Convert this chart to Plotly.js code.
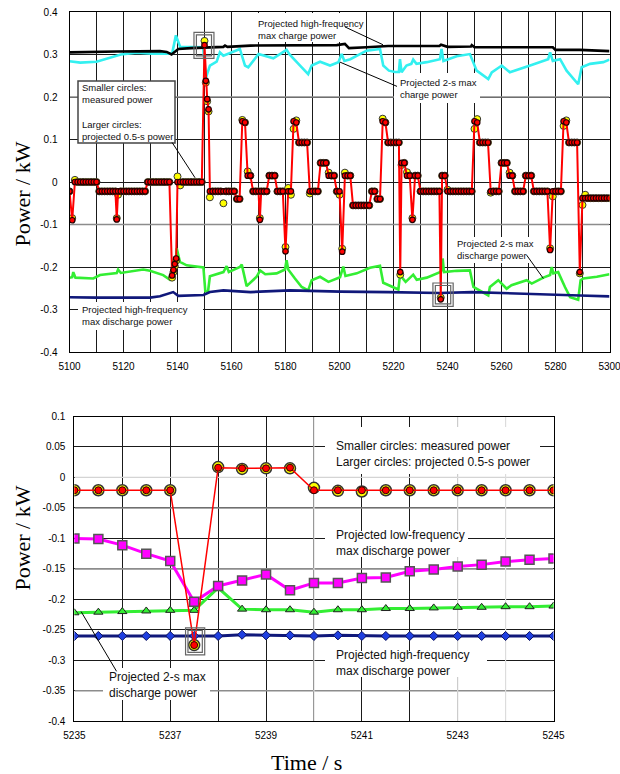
<!DOCTYPE html>
<html><head><meta charset="utf-8">
<script src="https://cdn.plot.ly/plotly-3.0.1.min.js"></script>
<style>html,body{margin:0;padding:0;background:#fff}#chart{width:620px;height:774px}</style>
</head><body><div id="chart"></div>
<script>
// ---------------- TOP CHART DATA (time s, power kW) ----------------
const measuredTop = [
[5100,-0.022],[5101,-0.090],
[5102,0],[5103,0],[5104,0],[5105,0],[5106,0],[5107,0],[5108,0],[5109,0],[5110,0],
[5111,-0.022],[5112,-0.022],[5113,-0.022],[5114,-0.022],[5115,-0.022],[5116,-0.022],[5117,-0.022],[5117.5,-0.088],
[5118,-0.022],[5119,-0.022],[5120,-0.022],[5121,-0.022],[5122,-0.022],[5123,-0.022],[5124,-0.022],[5125,-0.022],[5126,-0.022],[5127,-0.022],[5128,-0.022],
[5129,0],[5130,0],[5131,0],[5132,0],[5133,0],[5134,0],[5135,0],[5136,0],[5137,0],
[5138,-0.220],[5138.5,-0.207],[5139,-0.193],[5139.5,-0.180],
[5140,0],[5141,0],[5142,0],[5143,0],[5144,0],[5145,0],[5146,0],[5147,0],[5148,0],[5149,0],
[5150,0.322],[5150.5,0.238],[5151,0.195],[5151.5,0.171],
[5152,-0.022],[5153,-0.022],[5154,-0.022],[5155,-0.022],[5156,-0.022],[5157,-0.022],[5158,-0.022],[5159,-0.022],[5160,-0.022],[5161,-0.022],
[5162,-0.040],[5163,-0.040],[5164,0.143],[5165,0.140],[5166,0.015],[5167,0.015],
[5168,-0.022],[5169,-0.022],[5170,-0.022],[5170.5,-0.089],[5171,-0.022],[5172,-0.022],[5173,-0.022],
[5174,0.015],[5175,0.015],[5176,0.015],
[5177,-0.022],[5178,-0.022],[5179,-0.022],[5180,-0.163],[5181,-0.022],[5182,-0.022],
[5183,0.143],[5184,0.140],[5185,0.093],[5186,0.093],[5187,0.093],[5188,0.093],
[5189,-0.022],[5190,-0.022],[5191,-0.022],[5192,-0.022],
[5193,0.045],[5194,0.045],[5195,0.045],[5196,0.015],[5197,0.015],[5198,0.015],
[5199,-0.022],[5200,-0.022],[5201,-0.164],[5202,0.015],[5203,0.015],[5204,0.015],
[5205,-0.055],[5206,-0.055],[5207,-0.055],[5208,-0.055],[5209,-0.055],[5210,-0.055],[5211,-0.055],
[5212,-0.022],[5213,-0.022],[5214,-0.040],[5215,-0.040],
[5216,0.143],[5217,0.140],[5218,0.093],[5219,0.093],[5220,0.093],[5221,0.093],[5222,0.093],[5222.5,-0.212],
[5223,0.045],[5224,0.045],[5225,0.015],[5226,0.015],[5227,-0.089],[5228,0.015],[5229,0.015],
[5230,-0.022],[5231,-0.022],[5232,-0.022],[5233,-0.022],[5234,-0.022],[5235,-0.022],[5236,-0.022],[5237,-0.022],[5237.5,-0.276],
[5238,0.015],[5239,0.015],
[5240,-0.022],[5241,-0.022],[5242,-0.022],[5243,-0.022],[5244,-0.022],[5245,-0.022],[5246,-0.022],[5247,-0.022],[5248,-0.022],[5249,-0.022],
[5250,0.143],[5251,0.140],[5252,0.093],[5253,0.093],[5254,0.093],[5255,0.093],
[5256,-0.022],[5257,-0.022],[5258,-0.022],[5259,-0.022],
[5260,0.045],[5261,0.045],[5262,0.045],[5263,0.015],[5264,0.015],
[5265,-0.022],[5266,-0.022],[5267,-0.022],[5268,-0.022],
[5269,0.015],[5270,0.015],[5271,0.015],
[5272,-0.022],[5273,-0.022],[5274,-0.022],[5275,-0.022],[5276,-0.022],[5277,-0.022],[5278,-0.160],
[5279,-0.022],[5280,-0.022],[5281,-0.022],[5282,-0.022],
[5283,0.143],[5284,0.140],[5285,0.093],[5286,0.093],[5287,0.093],[5288,0.093],[5289,-0.212],
[5290,-0.038],[5291,-0.038],[5292,-0.038],[5293,-0.038],[5294,-0.038],[5295,-0.038],[5296,-0.038],[5297,-0.038],[5298,-0.038],[5299,-0.038],[5300,-0.038]
];
const projectedTop = [
[5100,-0.022],[5101,-0.085],
[5102,0.005],[5103,0],[5104,0],[5105,0],[5106,0],[5107,0],[5108,0],[5109,0],[5110,0],
[5111,-0.022],[5112,-0.022],[5113,-0.022],[5114,-0.022],[5115,-0.022],[5116,-0.022],[5117,-0.022],[5117.5,-0.085],
[5118,-0.030],[5119,-0.022],[5120,-0.022],[5121,-0.022],[5122,-0.022],[5123,-0.022],[5124,-0.022],[5125,-0.022],[5126,-0.022],[5127,-0.022],[5128,-0.022],
[5129,0],[5130,0],[5131,0],[5132,0],[5133,0],[5134,0],[5135,0],[5136,0],[5137,0],
[5138,-0.225],[5138.5,-0.212],[5139,-0.198],[5139.5,-0.185],
[5140,0.013],[5141,-0.008],[5142,0],[5143,0],[5144,0],[5145,0],[5146,0],[5147,0],[5148,0],[5149,0],
[5150,0.332],[5150.5,0.234],[5151,0.190],[5151.5,0.166],
[5152,-0.036],[5153,-0.022],[5154,-0.022],[5155,-0.022],[5156,-0.022],[5157,-0.050],[5158,-0.022],[5159,-0.022],[5160,-0.022],[5161,-0.022],
[5162,-0.040],[5163,-0.040],[5164,0.146],[5165,0.140],[5166,0.025],[5167,0.015],
[5168,-0.022],[5169,-0.022],[5170,-0.022],[5170.5,-0.085],[5171,-0.022],[5172,-0.022],[5173,-0.022],
[5174,0.015],[5175,0.015],[5176,0.015],
[5177,-0.022],[5178,-0.022],[5179,-0.022],[5180,-0.153],[5181,-0.014],[5182,-0.030],
[5183,0.125],[5184,0.145],[5185,0.093],[5186,0.093],[5187,0.093],[5188,0.093],
[5189,-0.027],[5190,-0.022],[5191,-0.022],[5192,-0.022],
[5193,0.045],[5194,0.045],[5195,0.045],[5196,0.022],[5197,0.015],[5198,0.015],
[5199,-0.022],[5200,-0.030],[5201,-0.157],[5202,0.022],[5203,0.015],[5204,0.015],
[5205,-0.055],[5206,-0.055],[5207,-0.055],[5208,-0.055],[5209,-0.055],[5210,-0.055],[5211,-0.055],
[5212,-0.022],[5213,-0.022],[5214,-0.040],[5215,-0.040],
[5216,0.149],[5217,0.140],[5218,0.093],[5219,0.093],[5220,0.093],[5221,0.093],[5222,0.093],[5222.5,-0.218],
[5223,0.040],[5224,0.045],[5225,0.023],[5226,0.015],[5227,-0.085],[5228,0.015],[5229,0.015],
[5230,-0.022],[5231,-0.022],[5232,-0.022],[5233,-0.022],[5234,-0.022],[5235,-0.022],[5236,-0.022],[5237,-0.022],[5237.5,-0.272],
[5238,0.015],[5239,0.015],
[5240,-0.018],[5241,-0.022],[5242,-0.022],[5243,-0.022],[5244,-0.022],[5245,-0.022],[5246,-0.022],[5247,-0.022],[5248,-0.022],[5249,-0.022],
[5250,0.125],[5251,0.148],[5252,0.093],[5253,0.093],[5254,0.093],[5255,0.093],
[5256,-0.025],[5257,-0.022],[5258,-0.022],[5259,-0.022],
[5260,0.045],[5261,0.045],[5262,0.045],[5263,0.022],[5264,0.015],
[5265,-0.022],[5266,-0.022],[5267,-0.022],[5268,-0.022],
[5269,0.015],[5270,0.015],[5271,0.015],
[5272,-0.022],[5273,-0.022],[5274,-0.022],[5275,-0.022],[5276,-0.022],[5277,-0.022],[5278,-0.156],
[5279,-0.034],[5280,-0.022],[5281,-0.022],[5282,-0.022],
[5283,0.132],[5284,0.145],[5285,0.093],[5286,0.093],[5287,0.093],[5288,0.093],[5289,-0.215],
[5290,-0.054],[5291,-0.030],[5292,-0.038],[5293,-0.038],[5294,-0.038],[5295,-0.038],[5296,-0.038],[5297,-0.038],[5298,-0.038],[5299,-0.038],[5300,-0.038]
];
// projected high-frequency max charge power (black)
const hfChargeTop = [
[5100,0.305],[5105,0.306],[5117.5,0.307],[5133.5,0.308],[5136,0.306],[5137.8,0.300],[5140.3,0.313],[5145,0.315],
[5152,0.317],[5157,0.318],[5157.6,0.321],[5158.5,0.318],[5167,0.321],[5180,0.321],[5199,0.322],[5202,0.325],
[5202.7,0.321],[5203.5,0.315],[5210,0.317],[5218,0.320],[5237,0.320],[5237.6,0.323],[5240,0.318],[5248.7,0.319],
[5249,0.322],[5250,0.317],[5279,0.317],[5280,0.311],[5289,0.311],[5296.5,0.308],[5300,0.308]
];
// projected 2-s max charge power (cyan)
const twoSecChargeTop = [
[5100,0.284],[5104,0.281],[5110,0.283],[5119,0.300],[5125,0.304],[5130.5,0.302],[5138,0.302],[5139.4,0.345],
[5141,0.318],[5149.5,0.317],[5150.5,0.245],[5152,0.274],[5154.5,0.283],[5155.7,0.305],[5157,0.297],[5163.1,0.313],
[5165,0.274],[5166.2,0.270],[5170,0.301],[5175.5,0.291],[5180.4,0.311],[5181.5,0.300],[5185.4,0.274],[5188.4,0.254],
[5189.7,0.274],[5192.8,0.283],[5196.5,0.274],[5199.6,0.282],[5200.8,0.301],[5201.8,0.285],[5204,0.289],[5210,0.309],
[5215,0.313],[5216.2,0.274],[5218.3,0.262],[5220.6,0.259],[5222,0.259],[5222.4,0.289],[5223,0.258],[5224.8,0.274],
[5226.6,0.278],[5227.3,0.288],[5228.5,0.278],[5232.3,0.282],[5237.2,0.289],[5237.8,0.313],[5238.5,0.285],[5243.4,0.296],
[5248.3,0.301],[5250.8,0.262],[5255.1,0.242],[5256.4,0.258],[5260.1,0.274],[5263.1,0.258],[5270.6,0.274],[5274.3,0.282],
[5277.3,0.289],[5278,0.305],[5279,0.285],[5281.7,0.289],[5284.1,0.262],[5288.4,0.230],[5289.7,0.270],[5292.8,0.278],
[5297.7,0.282],[5300,0.288]
];
// projected 2-s max discharge power (green)
const twoSecDischargeTop = [
[5100,-0.225],[5101,-0.224],[5101.4,-0.212],[5102.2,-0.225],[5108.8,-0.227],[5111.3,-0.219],[5117.5,-0.214],[5118,-0.206],
[5119,-0.214],[5127.3,-0.206],[5129.8,-0.209],[5134.7,-0.219],[5137.2,-0.230],[5139.1,-0.215],[5139.7,-0.156],[5140.9,-0.188],
[5143.4,-0.196],[5149.6,-0.201],[5150.3,-0.257],[5151.3,-0.258],[5152,-0.222],[5157,-0.212],[5158.2,-0.198],[5159,-0.212],
[5163.1,-0.200],[5163.8,-0.194],[5165.6,-0.245],[5169.3,-0.223],[5170.6,-0.208],[5172.5,-0.217],[5176.7,-0.215],[5179.8,-0.206],
[5180.4,-0.184],[5181,-0.206],[5183.5,-0.227],[5186,-0.247],[5188.4,-0.255],[5189.7,-0.231],[5192.8,-0.223],[5195.9,-0.235],
[5200.2,-0.224],[5201.4,-0.199],[5202.2,-0.221],[5206.4,-0.215],[5211.3,-0.202],[5215,-0.197],[5216.2,-0.237],[5219.9,-0.247],
[5221.8,-0.253],[5222.4,-0.219],[5224.5,-0.235],[5227.3,-0.218],[5228.6,-0.230],[5232.3,-0.225],[5237.2,-0.212],[5237.8,-0.208],
[5238.2,-0.180],[5238.7,-0.212],[5243.4,-0.209],[5248.3,-0.208],[5249.6,-0.247],[5255.1,-0.267],[5255.7,-0.247],[5258.8,-0.231],
[5261.9,-0.251],[5263.7,-0.243],[5269.3,-0.231],[5271.2,-0.239],[5275.5,-0.225],[5278,-0.219],[5278.6,-0.200],[5279.2,-0.215],
[5281,-0.212],[5283.5,-0.247],[5285.4,-0.271],[5288.4,-0.277],[5289.3,-0.231],[5290.3,-0.227],[5295.3,-0.223],[5300,-0.217]
];
// projected high-frequency max discharge power (navy)
const hfDischargeTop = [
[5100,-0.271],[5110,-0.272],[5129.8,-0.272],[5133.5,-0.269],[5138.4,-0.259],[5140.3,-0.268],[5149.6,-0.266],[5152,-0.259],
[5157,-0.255],[5163,-0.258],[5167,-0.259],[5181.7,-0.255],[5200.2,-0.258],[5218,-0.259],[5237,-0.261],[5249,-0.259],
[5270,-0.264],[5289,-0.267],[5300,-0.269]
];
const topXTickVals = [5100,5110,5120,5130,5140,5150,5160,5170,5180,5190,5200,5210,5220,5230,5240,5250,5260,5270,5280,5290,5300];
const topXTickText = ['5100','','5120','','5140','','5160','','5180','','5200','','5220','','5240','','5260','','5280','','5300'];
const topYTickVals = [-0.4,-0.3,-0.2,-0.1,0,0.1,0.2,0.3,0.4];
const topYTickText = ['-0.4','-0.3','-0.2','-0.1','0','0.1','0.2','0.3','0.4'];

// ---------------- BOTTOM CHART DATA ----------------
const timeBot = [5235,5235.5,5236,5236.5,5237,5237.5,5238,5238.5,5239,5239.5,5240,5240.5,5241,5241.5,5242,5242.5,5243,5243.5,5244,5244.5,5245];
const measuredBot = [-0.021,-0.021,-0.021,-0.021,-0.021,-0.275,0.016,0.015,0.015,0.016,-0.021,-0.021,-0.021,-0.021,-0.021,-0.021,-0.021,-0.021,-0.021,-0.021,-0.021];
const projectedBot = [-0.021,-0.021,-0.021,-0.021,-0.021,-0.275,0.017,0.014,0.015,0.015,-0.017,-0.022,-0.023,-0.021,-0.021,-0.021,-0.021,-0.021,-0.021,-0.021,-0.021];
const lowFreqDischargeBot = [-0.100,-0.101,-0.111,-0.125,-0.137,-0.204,-0.178,-0.169,-0.159,-0.185,-0.173,-0.173,-0.165,-0.164,-0.154,-0.151,-0.146,-0.143,-0.138,-0.135,-0.133];
const twoSecDischargeBot = [-0.222,-0.221,-0.220,-0.219,-0.218,-0.218,-0.181,-0.216,-0.217,-0.217,-0.221,-0.217,-0.217,-0.215,-0.215,-0.214,-0.213,-0.213,-0.212,-0.212,-0.211];
const hfDischargeBot = [-0.260,-0.260,-0.260,-0.260,-0.260,-0.260,-0.260,-0.258,-0.259,-0.259,-0.260,-0.259,-0.260,-0.260,-0.260,-0.260,-0.260,-0.260,-0.260,-0.260,-0.260];
const botXTickVals = [5235,5236,5237,5238,5239,5240,5241,5242,5243,5244,5245];
const botXTickText = ['5235','','5237','','5239','','5241','','5243','','5245'];
const botYTickVals = [-0.4,-0.35,-0.3,-0.25,-0.2,-0.15,-0.1,-0.05,0,0.05,0.1];
const botYTickText = ['-0.4','-0.35','-0.3','-0.25','-0.2','-0.15','-0.1','-0.05','0','0.05','0.1'];

// ---------------- helpers ----------------
const W = 620, H = 774;
const px = x => x / W;
const py = y => 1 - y / H;
const xs = a => a.map(p => p[0]);
const ys = a => a.map(p => p[1]);
// pixel frames of the two plot areas and their data ranges
const TOP = {l:69.5, r:609.5, t:12, b:352, x0:5100, x1:5300, y0:-0.4, y1:0.4, xr:'x', yr:'y'};
const BOT = {l:74.4, r:553.5, t:416.5, b:721.3, x0:5235, x1:5245, y0:-0.4, y1:0.1, xr:'x2', yr:'y2'};
const dx = (P, x) => P.x0 + (x - P.l) / (P.r - P.l) * (P.x1 - P.x0);
const dy = (P, y) => P.y0 + (P.b - y) / (P.b - P.t) * (P.y1 - P.y0);

const RED = '#ff0000', YEL = '#ffff00', CYAN = '#33f0f0', GREEN = '#33ee33', NAVY = '#10187a', MAG = '#ff00ff';

const traces = [
  {x: xs(twoSecChargeTop), y: ys(twoSecChargeTop), xaxis:'x', yaxis:'y', mode:'lines', line:{color:CYAN, width:2.6}},
  {x: xs(hfChargeTop), y: ys(hfChargeTop), xaxis:'x', yaxis:'y', mode:'lines', line:{color:'#000', width:2.6}},
  {x: xs(twoSecDischargeTop), y: ys(twoSecDischargeTop), xaxis:'x', yaxis:'y', mode:'lines', line:{color:GREEN, width:2.6}},
  {x: xs(hfDischargeTop), y: ys(hfDischargeTop), xaxis:'x', yaxis:'y', mode:'lines', line:{color:NAVY, width:2.6}},
  {x: xs(projectedTop), y: ys(projectedTop), xaxis:'x', yaxis:'y', mode:'markers',
   marker:{symbol:'circle', size:7, color:YEL, line:{color:'#333', width:1}}},
  {x: xs(measuredTop), y: ys(measuredTop), xaxis:'x', yaxis:'y', mode:'lines+markers',
   line:{color:RED, width:2}, marker:{symbol:'circle', size:5.5, color:RED, line:{color:'#260000', width:1.2}}},

  {x: timeBot, y: hfDischargeBot, xaxis:'x2', yaxis:'y2', mode:'lines+markers', line:{color:NAVY, width:3},
   marker:{symbol:'diamond', size:7, color:'#1f3fe0', line:{color:'#0a1060', width:1}}},
  {x: timeBot, y: twoSecDischargeBot, xaxis:'x2', yaxis:'y2', mode:'lines+markers', line:{color:GREEN, width:3},
   marker:{symbol:'triangle-up', size:8, color:GREEN, line:{color:'#222', width:1}}},
  {x: timeBot, y: lowFreqDischargeBot, xaxis:'x2', yaxis:'y2', mode:'lines+markers', line:{color:MAG, width:3},
   marker:{symbol:'square', size:9, color:MAG, line:{color:'#555', width:1.5}}},
  {x: timeBot, y: projectedBot, xaxis:'x2', yaxis:'y2', mode:'markers',
   marker:{symbol:'circle', size:11, color:YEL, line:{color:'#333', width:1.5}}},
  {x: timeBot, y: measuredBot, xaxis:'x2', yaxis:'y2', mode:'lines+markers', line:{color:RED, width:1.5},
   marker:{symbol:'circle', size:7, color:RED, line:{color:'#300', width:1}}}
];

const tickFont = {family:'Liberation Sans, Arial, sans-serif', size:10, color:'#000'};
const axisCommon = {showline:true, mirror:true, linecolor:'#000', linewidth:1, zeroline:false,
  showgrid:true, gridcolor:'#1a1a1a', gridwidth:1, ticks:'', tickfont:tickFont, fixedrange:true,
  ticklabeloverflow:'allow'};

function hLine(xref, yref, x0, x1, y, color, w){return {type:'line', xref, yref, x0, x1, y0:y, y1:y, line:{color, width:w}, layer:'between'};}
function vLine(xref, yref, x, y0, y1, color, w){return {type:'line', xref, yref, x0:x, x1:x, y0, y1, line:{color, width:w}, layer:'between'};}
function whiteBox(P, x0, y0, x1, y1, border){return {type:'rect', xref:P.xr, yref:P.yr,
  x0:dx(P,x0), x1:dx(P,x1), y0:dy(P,y1), y1:dy(P,y0),
  fillcolor:'#fff', line:{color: border||'#fff', width: border?1.5:0}, layer:'between'};}
function lead(xref,yref,x0,y0,x1,y1){return {type:'line', xref, yref, x0, y0, x1, y1, line:{color:'#000', width:1}, layer:'above'};}
function dbox(xref,yref,x0,x1,y0,y1){return {type:'rect', xref, yref, x0, x1, y0, y1, line:{color:'#666', width:1.2}, layer:'above'};}

const shapes = [
  hLine('x','y',5100,5300,0.2,'#8c8c8c',1.6),
  hLine('x','y',5100,5300,-0.1,'#8c8c8c',1.6),
  hLine('x2','y2',5235,5245,0,'#d4d4d4',1.2),
  hLine('x2','y2',5235,5245,-0.05,'#8c8c8c',1.6),
  hLine('x2','y2',5235,5245,-0.15,'#8c8c8c',1.6),
  hLine('x2','y2',5235,5245,-0.35,'#8c8c8c',1.6),
  vLine('x2','y2',5240,-0.4,0.1,'#dcdcdc',1.2),
  vLine('x2','y2',5243,-0.4,0.1,'#dcdcdc',1.2),
  vLine('x2','y2',5244,-0.4,0.1,'#dcdcdc',1.2),
  whiteBox(TOP,254,13,365,42),
  whiteBox(TOP,394,73,480,103),
  whiteBox(TOP,78,81,175,143,'#444'),
  whiteBox(TOP,453,237,536,263),
  whiteBox(TOP,78,302,203,330),
  whiteBox(BOT,325,427,540,474),
  whiteBox(BOT,325,531,468,557),
  whiteBox(BOT,325,651,487,677),
  whiteBox(BOT,103,668,210,700),
  lead('x','y',5202.0,0.365,5216.1,0.323),
  lead('x','y',5200.2,0.282,5221.3,0.225),
  lead('x','y',5138.0,0.093,5146.5,0.010),
  lead('x','y',5269.3,-0.172,5275.5,-0.227),
  lead('x2','y2',5235.14,-0.220,5235.88,-0.318),
  dbox('x','y',5146.1,5153.5,0.291,0.352),
  dbox('x','y',5147.0,5152.6,0.297,0.346),
  dbox('x','y',5234.6,5242.1,-0.2927,-0.2376),
  dbox('x','y',5235.5,5241.2,-0.2868,-0.2435),
  dbox('x2','y2',5237.32,5237.72,-0.291,-0.2467),
  dbox('x2','y2',5237.37,5237.67,-0.2869,-0.2508)
];

const sFont = {family:'Liberation Sans, Arial, sans-serif', size:9.5, color:'#111'};
const bFont = {family:'Liberation Sans, Arial, sans-serif', size:12, color:'#111'};
const tFont = {family:'Liberation Serif, Times New Roman, serif', size:22, color:'#000'};
function note(x, y, text, font){return {xref:'paper', yref:'paper', x:px(x), y:py(y), text, showarrow:false,
  xanchor:'left', yanchor:'middle', align:'left', font, borderpad:0};}

const annotations = [
  note(257,30,'Projected high-frequency<br>max charge power',sFont),
  note(399,88.5,'Projected 2-s max<br>charge power',sFont),
  note(81,112,'Smaller circles:<br>measured power<br> <br>Larger circles:<br>projected 0.5-s power',sFont),
  note(456,249.5,'Projected 2-s max<br>discharge power',sFont),
  note(81,315,'Projected high-frequency<br>max discharge power',sFont),
  note(335,454,'Smaller circles: measured power<br>Larger circles: projected 0.5-s power',bFont),
  note(335,542.5,'Projected low-frequency<br>max discharge power',bFont),
  note(335,663,'Projected high-frequency<br>max discharge power',bFont),
  note(108,685,'Projected 2-s max<br>discharge power',bFont),
  {xref:'paper', yref:'paper', x:px(21.6), y:py(194), text:'Power / kW', textangle:-90, showarrow:false, font:tFont, xanchor:'center', yanchor:'middle'},
  {xref:'paper', yref:'paper', x:px(21.6), y:py(538), text:'Power / kW', textangle:-90, showarrow:false, font:tFont, xanchor:'center', yanchor:'middle'},
  {xref:'paper', yref:'paper', x:px(306), y:py(762.5), text:'Time / s', showarrow:false, font:tFont, xanchor:'center', yanchor:'middle'}
];

const layout = {
  width: W, height: H, margin:{l:0, r:0, t:0, b:0}, showlegend:false,
  paper_bgcolor:'#fff', plot_bgcolor:'#fff',
  xaxis: Object.assign({}, axisCommon, {domain:[px(TOP.l), px(TOP.r)], range:[5100,5300], anchor:'y',
    tickmode:'array', tickvals:topXTickVals, ticktext:topXTickText, ticklabelstandoff:5}),
  yaxis: Object.assign({}, axisCommon, {domain:[py(TOP.b), py(TOP.t)], range:[-0.4,0.4], anchor:'x',
    tickmode:'array', tickvals:topYTickVals, ticktext:topYTickText, ticklabelstandoff:9}),
  xaxis2: Object.assign({}, axisCommon, {domain:[px(BOT.l), px(BOT.r)], range:[5235,5245], anchor:'y2',
    tickmode:'array', tickvals:botXTickVals, ticktext:botXTickText, ticklabelstandoff:5}),
  yaxis2: Object.assign({}, axisCommon, {domain:[py(BOT.b), py(BOT.t)], range:[-0.4,0.1], anchor:'x2',
    tickmode:'array', tickvals:botYTickVals, ticktext:botYTickText, ticklabelstandoff:6}),
  shapes, annotations
};

Plotly.newPlot('chart', traces, layout, {staticPlot:true, displayModeBar:false});
</script></body></html>
